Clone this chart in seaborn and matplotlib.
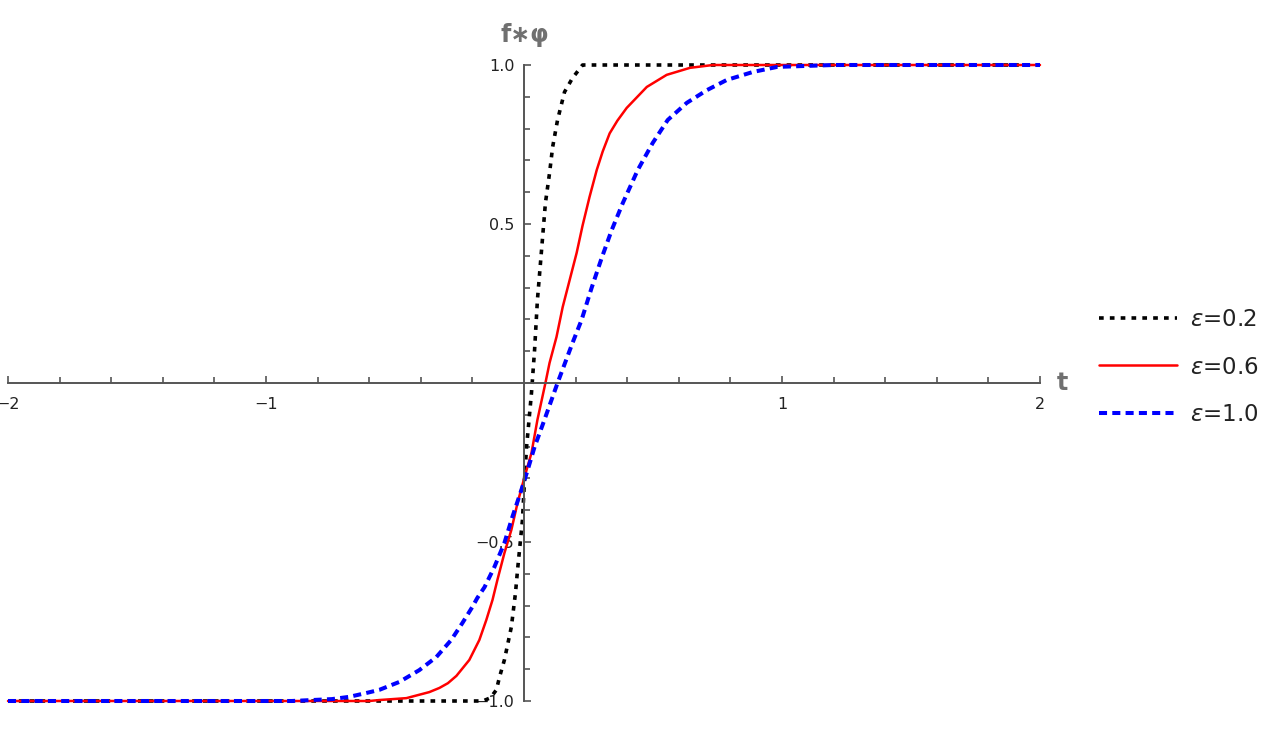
import numpy as np
import pandas as pd
import matplotlib.pyplot as plt
import seaborn as sns
from matplotlib.ticker import FixedLocator

# values
t_eps02 = [-2.0, -0.16, -0.13, -0.107, -0.095, -0.076, -0.049, -0.033, -0.025, -0.006,
           0.002, 0.010, 0.029, 0.041, 0.052, 0.068, 0.083, 0.099, 0.111, 0.130,
           0.157, 0.188, 0.227, 2.0]
y_eps02 = [-1.0, -1.0, -0.99, -0.965, -0.925, -0.871, -0.767, -0.660, -0.588, -0.431,
           -0.305, -0.201, -0.031, 0.104, 0.261, 0.418, 0.566, 0.660, 0.742, 0.827,
           0.915, 0.959, 1.0, 1.0]

t_eps06 = [-2.0, -0.60, -0.561, -0.456, -0.367, -0.328, -0.295, -0.262, -0.212, -0.173,
           -0.146, -0.122, -0.103, -0.076, -0.049, -0.025, 0.002, 0.029, 0.052, 0.083,
           0.099, 0.126, 0.150, 0.177, 0.204, 0.227, 0.254, 0.282, 0.305, 0.332,
           0.362, 0.398, 0.476, 0.553, 0.643, 0.732, 2.0]
y_eps06 = [-1.0, -1.0, -0.997, -0.991, -0.972, -0.959, -0.944, -0.921, -0.871, -0.808,
           -0.745, -0.682, -0.619, -0.535, -0.462, -0.377, -0.296, -0.220, -0.116, 0.0,
           0.063, 0.145, 0.239, 0.324, 0.409, 0.495, 0.585, 0.670, 0.728, 0.785,
           0.825, 0.865, 0.931, 0.969, 0.991, 1.0, 1.0]

t_eps10 = [-2.0, -0.90, -0.744, -0.678, -0.612, -0.561, -0.483, -0.406, -0.340, -0.282,
           -0.239, -0.200, -0.181, -0.153, -0.115, -0.076, -0.045, -0.010, 0.014, 0.041,
           0.072, 0.130, 0.188, 0.223, 0.262, 0.301, 0.340, 0.383, 0.441, 0.499,
           0.557, 0.631, 0.709, 0.786, 0.887, 0.981, 1.20, 2.0]
y_eps10 = [-1.0, -1.0, -0.994, -0.987, -0.975, -0.965, -0.940, -0.903, -0.862, -0.808,
           -0.755, -0.704, -0.676, -0.642, -0.579, -0.503, -0.421, -0.336, -0.274, -0.201,
           -0.132, 0.0, 0.126, 0.198, 0.299, 0.393, 0.481, 0.566, 0.670, 0.755,
           0.827, 0.881, 0.921, 0.953, 0.978, 0.994, 1.0, 1.0]

labels = [r"$\varepsilon$=0.2", r"$\varepsilon$=0.6", r"$\varepsilon$=1.0"]
x_ticks = [-2, -1, 1, 2]
y_ticks = [-1.0, -0.5, 0.5, 1.0]

sns.set_theme(style="white")
plt.rcParams["font.family"] = ["DejaVu Sans"]

fig = plt.figure(figsize=(12.74, 7.34), dpi=100)
ax = fig.add_axes([8 / 1274, 33 / 734, 1032 / 1274, 636 / 734])

sns.lineplot(x=t_eps02, y=y_eps02, ax=ax, sort=False, estimator=None, color="black",
             linewidth=2.6, linestyle=(0, (1.3, 1.7)), label=labels[0], clip_on=False)
sns.lineplot(x=t_eps06, y=y_eps06, ax=ax, sort=False, estimator=None, color="#ff0000",
             linewidth=1.8, label=labels[1], clip_on=False)
sns.lineplot(x=t_eps10, y=y_eps10, ax=ax, sort=False, estimator=None, color="#0000ff",
             linewidth=2.9, linestyle=(0, (2.0, 1.3)), label=labels[2], clip_on=False)

ax.set_xlim(-2, 2)
ax.set_ylim(-1, 1)

# axes through the origin
ax.spines["left"].set_position(("data", 0))
ax.spines["bottom"].set_position(("data", 0))
ax.spines["right"].set_visible(False)
ax.spines["top"].set_visible(False)
for s in ["left", "bottom"]:
    ax.spines[s].set_color("#555555")
    ax.spines[s].set_linewidth(1.4)

ax.set_xticks(x_ticks)
ax.set_xticklabels(["\u22122", "\u22121", "1", "2"])
ax.set_yticks(y_ticks)
ax.set_yticklabels(["\u22121.0", "\u22120.5", "0.5", "1.0"])
ax.xaxis.set_minor_locator(FixedLocator([v / 5 for v in range(-9, 10) if v % 5 != 0]))
ax.yaxis.set_minor_locator(FixedLocator([v / 10 for v in range(-9, 10) if v % 5 != 0]))
ax.tick_params(which="both", direction="in", color="#555555", width=1.2,
               labelsize=11.5, labelcolor="#222222", bottom=True, left=True)
ax.tick_params(which="major", length=5)
ax.tick_params(which="minor", length=4)
ax.tick_params(axis="x", pad=10)
ax.tick_params(axis="y", pad=7)
ax.grid(False)

fig.text(525 / 1274, 1 - 35 / 734, "f\u2217\u03c6", ha="center", va="center",
         fontsize=17, fontweight="bold", color="#707070")
fig.text(1062 / 1274, 1 - 383 / 734, "t", ha="center", va="center",
         fontsize=17, fontweight="bold", color="#707070")

handles, labs = ax.get_legend_handles_labels()
ax.get_legend().remove()
fig.legend(handles, labs, loc="center left", bbox_to_anchor=(1078 / 1274, 1 - 367 / 734),
           frameon=False, fontsize=16.5, handlelength=3.4, handletextpad=0.6,
           labelspacing=1.05, labelcolor="#222222")

fig.savefig("out.png", dpi=100)
